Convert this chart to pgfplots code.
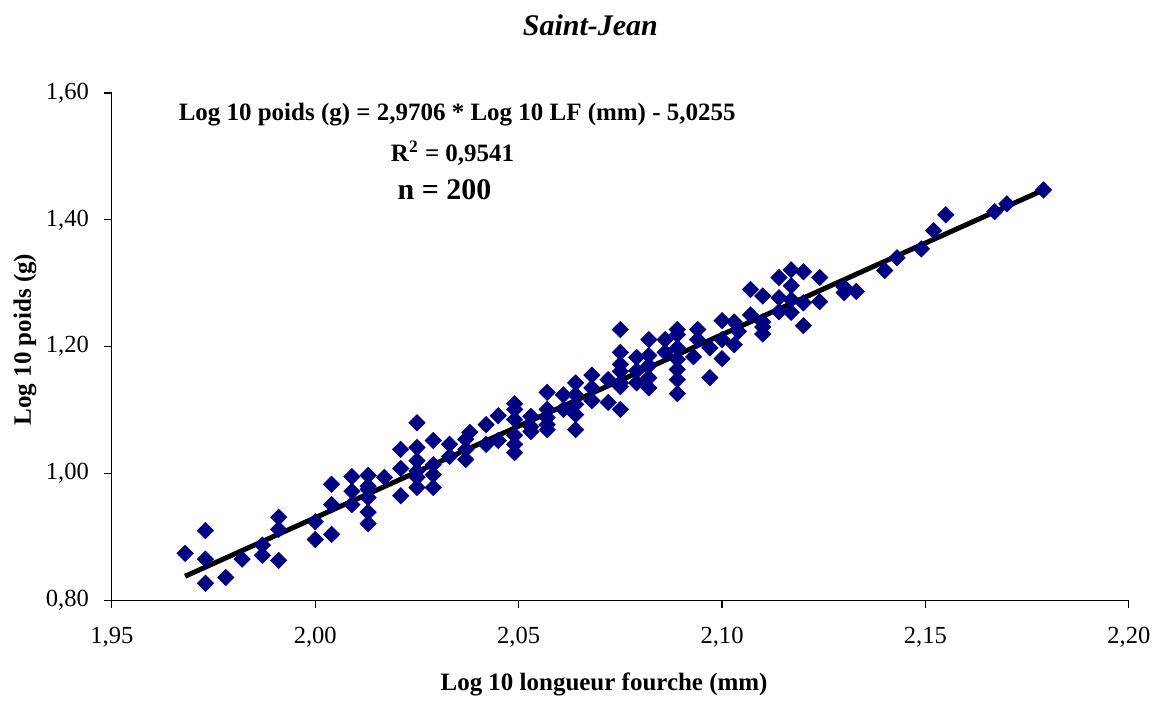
\documentclass[border=0pt]{standalone}
\usepackage{fontspec}
\setmainfont{Liberation Serif}
\usepackage{pgfplots}
\pgfplotsset{compat=1.18}
\usepackage{pgfplotstable}

\definecolor{navy}{RGB}{0,0,128}

% Log10 LF (mm), Log10 poids (g)
\pgfplotstableread{
x y
1.968 0.874
1.973 0.910
1.973 0.865
1.973 0.827
1.978 0.836
1.982 0.865
1.987 0.887
1.987 0.871
1.991 0.931
1.991 0.912
1.991 0.863
2.000 0.924
2.000 0.896
2.004 0.983
2.004 0.951
2.004 0.904
2.009 0.995
2.009 0.972
2.009 0.951
2.013 0.997
2.013 0.980
2.013 0.975
2.013 0.962
2.013 0.939
2.013 0.921
2.017 0.994
2.021 1.038
2.021 1.008
2.021 0.965
2.025 1.080
2.025 1.041
2.025 1.020
2.025 1.004
2.025 0.994
2.025 0.978
2.029 1.052
2.029 1.014
2.029 0.998
2.029 0.978
2.033 1.046
2.033 1.027
2.037 1.054
2.037 1.038
2.037 1.022
2.038 1.065
2.042 1.077
2.042 1.046
2.045 1.091
2.045 1.052
2.049 1.110
2.049 1.101
2.049 1.085
2.049 1.060
2.049 1.046
2.049 1.033
2.053 1.090
2.053 1.074
2.053 1.066
2.057 1.128
2.057 1.101
2.057 1.088
2.057 1.077
2.057 1.069
2.061 1.124
2.061 1.101
2.064 1.143
2.064 1.124
2.064 1.109
2.064 1.093
2.064 1.069
2.068 1.155
2.068 1.135
2.068 1.115
2.072 1.148
2.072 1.112
2.075 1.227
2.075 1.191
2.075 1.172
2.075 1.161
2.075 1.143
2.075 1.137
2.075 1.101
2.079 1.183
2.079 1.162
2.079 1.143
2.082 1.211
2.082 1.186
2.082 1.170
2.082 1.151
2.082 1.135
2.086 1.211
2.086 1.191
2.089 1.227
2.089 1.219
2.089 1.198
2.089 1.180
2.089 1.164
2.089 1.148
2.089 1.126
2.093 1.184
2.094 1.227
2.094 1.211
2.097 1.198
2.097 1.151
2.100 1.241
2.100 1.211
2.100 1.181
2.103 1.239
2.104 1.224
2.103 1.203
2.107 1.290
2.107 1.250
2.110 1.280
2.110 1.239
2.110 1.231
2.110 1.220
2.114 1.309
2.114 1.277
2.114 1.255
2.117 1.321
2.117 1.296
2.117 1.274
2.117 1.254
2.120 1.318
2.120 1.269
2.120 1.233
2.124 1.309
2.124 1.271
2.130 1.294
2.130 1.285
2.133 1.287
2.140 1.320
2.143 1.340
2.149 1.354
2.152 1.383
2.155 1.408
2.167 1.413
2.170 1.425
2.179 1.447
}\poids

\begin{document}
\begin{tikzpicture}
\begin{axis}[
    name=ax,
    scale only axis,
    width=509pt, height=254pt,
    xmin=1.95, xmax=2.20,
    ymin=0.80, ymax=1.60,
    xtick={1.95,2.00,...,2.20},
    ytick={0.8,1.0,...,1.6},
    axis x line*=bottom,
    axis y line*=left,
    x axis line style={-},
    y axis line style={-},
    axis line style={black, line width=0.6pt},
    tick align=outside,
    major tick length=4pt,
    tick style={black, line width=0.6pt},
    xticklabel style={/pgf/number format/.cd, fixed, fixed zerofill, precision=2, use comma, assume math mode=true},
    yticklabel style={/pgf/number format/.cd, fixed, fixed zerofill, precision=2, use comma, assume math mode=true},
    ticklabel style={font=\fontsize{12.3}{14}\selectfont},
    xticklabel shift=6pt,
    yticklabel shift=4pt,
    xlabel={Log 10 longueur fourche (mm)},
    ylabel={Log 10 poids (g)},
    label style={font=\fontsize{12.5}{15}\selectfont\bfseries},
    xlabel style={at={(rel axis cs:0.484,-0.165)}, anchor=center},
    ylabel style={at={(rel axis cs:-0.0855,0.514)}, anchor=center, rotate=0},
    clip=false,
  ]
  \addplot[only marks, mark=square*, mark size=2.85pt,
           mark options={rotate=45, fill=navy, draw=navy}] table {\poids};
  \addplot[black, line width=2.5pt, mark=none] coordinates {(1.968,0.838) (2.179,1.447)};

  \node[font=\fontsize{12.5}{15}\selectfont\bfseries] at (rel axis cs:0.3395,0.9567)
    {Log 10 poids (g) = 2,9706 * Log 10 LF (mm) - 5,0255};
  \node[font=\fontsize{12.5}{15}\selectfont\bfseries] at (rel axis cs:0.3350,0.8819)
    {R\textsuperscript{2} = 0,9541};
  \node[font=\fontsize{15}{18}\selectfont\bfseries] at (rel axis cs:0.3271,0.8091)
    {n = 200};
  \node[font=\fontsize{15}{18}\selectfont\bfseries\itshape] at (rel axis cs:0.4705,1.134)
    {Saint-Jean};
\end{axis}
\path ([shift={(-56pt,-47.5pt)}]ax.south west) rectangle ([shift={(13.5pt,46.5pt)}]ax.north east);
\end{tikzpicture}
\end{document}
